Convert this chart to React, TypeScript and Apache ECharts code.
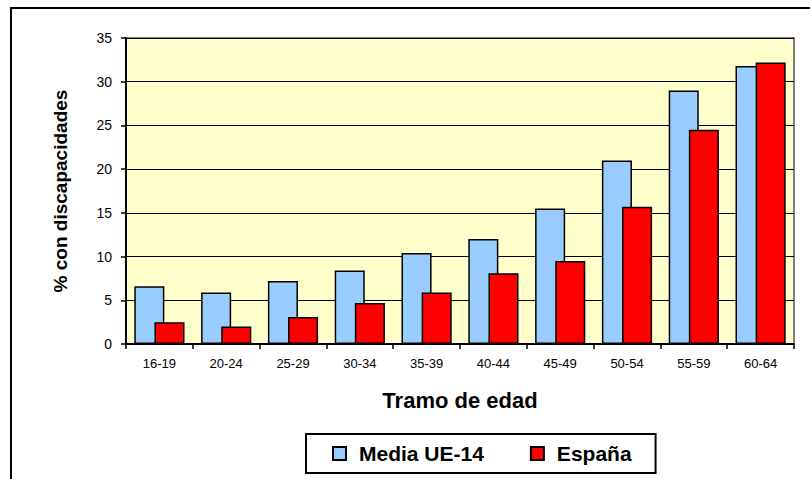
import React, { useEffect, useRef } from "react";
import * as echarts from "echarts";

const categories = ["16-19", "20-24", "25-29", "30-34", "35-39", "40-44", "45-49", "50-54", "55-59", "60-64"];
const mediaUE14 = [6.6, 5.9, 7.2, 8.4, 10.4, 12.0, 15.5, 21.0, 29.0, 31.8];
const espana = [2.5, 2.0, 3.1, 4.7, 5.9, 8.1, 9.5, 15.7, 24.5, 32.2];
const seriesNames = ["Media UE-14", "España"];

export default function App() {
  const ref = useRef<HTMLDivElement>(null);
  useEffect(() => {
    if (!ref.current) return;
    const chart = echarts.init(ref.current, null, { renderer: "svg" });
    const font = "Liberation Sans, Arial, sans-serif";
    chart.setOption({
      animation: false,
      backgroundColor: "#ffffff",
      textStyle: { fontFamily: font },
      graphic: [
        {
          type: "rect",
          shape: { x: 11, y: 8, width: 900, height: 600 },
          style: { fill: "none", stroke: "#000", lineWidth: 2 },
          silent: true,
        },
      ],
      grid: {
        left: 126,
        top: 38,
        right: 16,
        bottom: 135,
        show: true,
        backgroundColor: "#FFFFCC",
        borderColor: "#808080",
        borderWidth: 2,
      },
      legend: {
        data: seriesNames,
        left: 306,
        top: 434,
        orient: "horizontal",
        itemWidth: 13,
        itemHeight: 13,
        itemGap: 46,
        padding: [9, 24, 9, 26],
        borderColor: "#000",
        borderWidth: 2,
        borderRadius: 0,
        icon: "rect",
        textStyle: { fontFamily: font, fontSize: 21, fontWeight: "bold", color: "#000", padding: [0, 0, 0, 8] },
      },
      xAxis: {
        type: "category",
        data: categories,
        name: "Tramo de edad",
        nameLocation: "middle",
        nameGap: 45,
        nameTextStyle: { fontFamily: font, fontSize: 22, fontWeight: "bold", color: "#000", verticalAlign: "top" },
        axisLine: { lineStyle: { color: "#000", width: 2 } },
        axisTick: { show: true, length: 5, lineStyle: { color: "#000", width: 1.5 } },
        axisLabel: { color: "#000", fontSize: 13, margin: 13, fontFamily: font },
        splitLine: { show: false },
      },
      yAxis: {
        type: "value",
        min: 0,
        max: 35,
        interval: 5,
        name: "% con discapacidades",
        nameLocation: "middle",
        nameGap: 56,
        nameRotate: 90,
        nameTextStyle: { fontFamily: font, fontSize: 19, fontWeight: "bold", color: "#000" },
        axisLine: { show: true, lineStyle: { color: "#000", width: 2 } },
        axisTick: { show: true, length: 5, lineStyle: { color: "#000", width: 1.5 } },
        axisLabel: { color: "#000", fontSize: 14, margin: 14, fontFamily: font },
        splitLine: { show: true, lineStyle: { color: "#000", width: 1 } },
      },
      series: [
        {
          name: seriesNames[0],
          type: "bar",
          data: mediaUE14,
          barWidth: "45%",
          barGap: "-33%",
          itemStyle: { color: "#99CCFF", borderColor: "#000", borderWidth: 1.5 },
        },
        {
          name: seriesNames[1],
          type: "bar",
          data: espana,
          barWidth: "45%",
          barGap: "-33%",
          itemStyle: { color: "#FF0000", borderColor: "#000", borderWidth: 1.5 },
        },
      ],
    });
    return () => chart.dispose();
  }, []);
  return (
    <div
      ref={ref}
      style={{ position: "absolute", left: 0, top: 0, width: 810, height: 479 }}
    />
  );
}
